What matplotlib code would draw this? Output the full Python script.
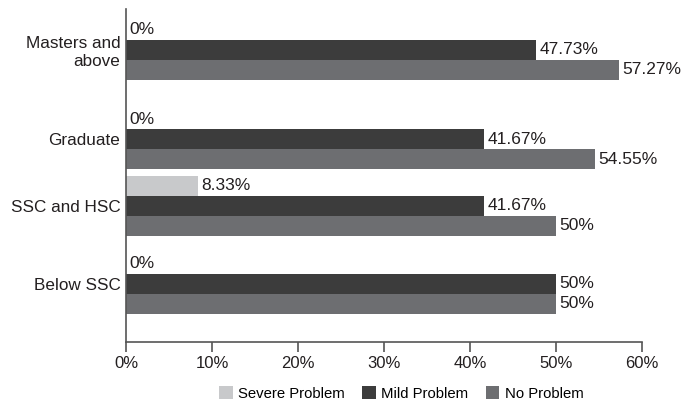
import matplotlib.pyplot as plt
import numpy as np

plt.rcParams['font.family'] = ['Liberation Sans', 'DejaVu Sans']

categories = ["Masters and\nabove", "Graduate", "SSC and HSC", "Below SSC"]
severe = [0, 0, 8.33, 0]
mild = [47.73, 41.67, 41.67, 50]
no_problem = [57.27, 54.55, 50, 50]
severe_lbl = ["0%", "0%", "8.33%", "0%"]
mild_lbl = ["47.73%", "41.67%", "41.67%", "50%"]
no_lbl = ["57.27%", "54.55%", "50%", "50%"]
xticks = [0, 10, 20, 30, 40, 50, 60]

# group centres (uneven spacing, as in the original figure)
centres = np.array([41, 130, 197, 275])
h = 20

fig = plt.figure(figsize=(6.98, 4.04), dpi=100)
ax = fig.add_axes([126/698, 62/404, 516/698, 333/404])

c_sev, c_mild, c_no = "#c8c9cb", "#3c3c3c", "#6d6e71"
txt = "#231f20"
b1 = ax.barh(centres - h, severe, height=h, color=c_sev, label="Severe Problem")
b2 = ax.barh(centres, mild, height=h, color=c_mild, label="Mild Problem")
b3 = ax.barh(centres + h, no_problem, height=h, color=c_no, label="No Problem")
ax.bar_label(b1, labels=severe_lbl, padding=2.5, fontsize=12.5, color=txt)
ax.bar_label(b2, labels=mild_lbl, padding=2.5, fontsize=12.5, color=txt)
ax.bar_label(b3, labels=no_lbl, padding=2.5, fontsize=12.5, color=txt)

ax.set_ylim(333, 0)
ax.set_xlim(0, 60)
ax.set_yticks(centres)
ax.set_yticklabels(categories, fontsize=12.3, color=txt, multialignment="right")
ax.tick_params(axis="y", length=0, pad=4)
ax.set_xticks(xticks)
ax.set_xticklabels([f"{t}%" for t in xticks], fontsize=12, color=txt)
ax.tick_params(axis="x", length=7, width=1.2, color="#555555", pad=3)
for s in ["top", "right"]:
    ax.spines[s].set_visible(False)
for s in ["left", "bottom"]:
    ax.spines[s].set_color("#555555")
    ax.spines[s].set_linewidth(1.2)

fig.legend(handles=[b1, b2, b3], loc="center", bbox_to_anchor=(0.575, 0.026),
           ncol=3, frameon=False, fontsize=10.7, handlelength=0.9,
           handleheight=0.9, handletextpad=0.35, columnspacing=1.2)

fig.savefig("out.png", dpi=100)
